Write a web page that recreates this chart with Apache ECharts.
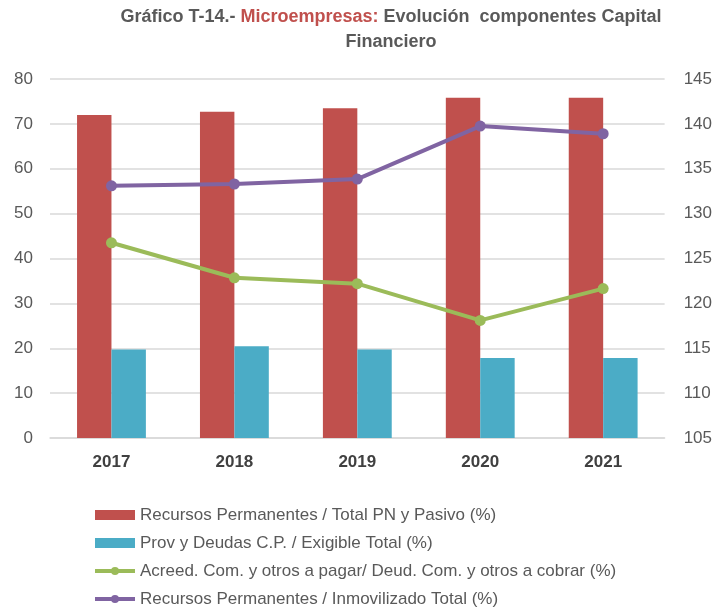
<!DOCTYPE html>
<html>
<head>
<meta charset="utf-8">
<script src="https://cdn.jsdelivr.net/npm/echarts@6/dist/echarts.min.js"></script>
<style>
  html, body { margin: 0; padding: 0; background: #fff; }
  #chart { width: 715px; height: 613px; }
</style>
</head>
<body>
<div id="chart"></div>
<script>
const years = ['2017', '2018', '2019', '2020', '2021']
const recursosTotal = [72.0, 72.7, 73.5, 75.8, 75.8]
const provDeudas = [19.7, 20.45, 19.7, 17.85, 17.85]
const acreedDeud = [126.75, 122.85, 122.2, 118.1, 121.65]
const recursosInmov = [133.1, 133.3, 133.85, 139.75, 138.9]

const names = [
    'Recursos Permanentes / Total PN y Pasivo (%)',
    'Prov y Deudas C.P. / Exigible Total (%)',
    'Acreed. Com. y otros a pagar/ Deud. Com. y otros a cobrar (%)',
    'Recursos Permanentes / Inmovilizado Total (%)'
]

const gray = '#595959'
const font = 'Liberation Sans'

const chart = echarts.init(document.getElementById('chart'), null, {renderer: 'canvas'})

chart.setOption({
    animation: false,
    title: {
        text: '{a|Gráfico T-14.- }{r|Microempresas:}{a| Evolución  componentes Capital}\n{a|Financiero}',
        left: 391,
        top: 5,
        padding: 0,
        textAlign: 'center',
        textStyle: {
            rich: {
                a: {fontFamily: font, fontSize: 18, fontWeight: 'bold', color: gray, lineHeight: 25, align: 'center'},
                r: {fontFamily: font, fontSize: 18, fontWeight: 'bold', color: '#C0504D', lineHeight: 25}
            }
        }
    },
    grid: {left: 50, right: 47, top: 79, bottom: 175},
    legend: {
        orient: 'vertical',
        left: 93,
        top: 506,
        padding: 0,
        itemWidth: 40,
        itemHeight: 10,
        itemGap: 10,
        textStyle: {fontFamily: font, fontSize: 17, lineHeight: 18, color: gray},
        data: [
            {name: names[0], icon: 'rect'},
            {name: names[1], icon: 'rect'},
            {name: names[2], lineStyle: {width: 4}},
            {name: names[3], lineStyle: {width: 4}}
        ]
    },
    xAxis: {
        type: 'category',
        data: years,
        axisLine: {lineStyle: {color: '#D9D9D9', width: 1.5}},
        axisTick: {show: false},
        axisLabel: {fontFamily: font, fontSize: 17, fontWeight: 'bold', color: '#404040', margin: 16}
    },
    yAxis: [
        {
            type: 'value',
            min: 0, max: 80, interval: 10,
            axisLine: {show: false},
            axisTick: {show: false},
            axisLabel: {fontFamily: font, fontSize: 17, color: gray, margin: 17},
            splitLine: {lineStyle: {color: '#D9D9D9', width: 1.5}}
        },
        {
            type: 'value',
            min: 105, max: 145, interval: 5,
            axisLine: {show: false},
            axisTick: {show: false},
            axisLabel: {fontFamily: font, fontSize: 17, color: gray, margin: 19},
            splitLine: {show: false}
        }
    ],
    series: [
        {
            name: names[0], type: 'bar', data: recursosTotal,
            barWidth: '28%', barGap: '0%',
            itemStyle: {color: '#C0504D'}
        },
        {
            name: names[1], type: 'bar', data: provDeudas,
            barWidth: '28%', barGap: '0%',
            itemStyle: {color: '#4BACC6'}
        },
        {
            name: names[2], type: 'line', yAxisIndex: 1, data: acreedDeud,
            symbol: 'circle', symbolSize: 11,
            lineStyle: {color: '#9BBB59', width: 4},
            itemStyle: {color: '#9BBB59'}
        },
        {
            name: names[3], type: 'line', yAxisIndex: 1, data: recursosInmov,
            symbol: 'circle', symbolSize: 11,
            lineStyle: {color: '#8064A2', width: 4},
            itemStyle: {color: '#8064A2'}
        }
    ]
})
</script>
</body>
</html>
